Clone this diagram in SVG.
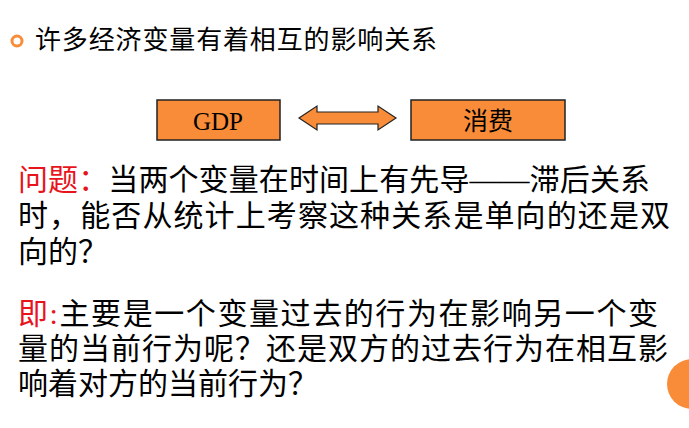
<svg xmlns="http://www.w3.org/2000/svg" width="689" height="428" viewBox="0 0 689 428">
<style>
.t{font-family:"Liberation Serif","Noto Sans CJK SC",serif;font-size:30px;fill:#000}
.r{fill:#e8141c}
.box{fill:#f98c38;stroke:#222;stroke-width:1.5}
.bl{font-family:"Liberation Serif","Noto Sans CJK SC",serif;font-size:25px;text-anchor:middle}
</style>
<rect width="689" height="428" fill="#fff"/>
<circle cx="17" cy="41" r="5" fill="none" stroke="#f98c38" stroke-width="3"/>
<text x="35" y="49" font-family="Liberation Sans,'Noto Sans CJK SC',sans-serif" font-size="26" textLength="402">许多经济变量有着相互的影响关系</text>
<g id="gdp"><rect class="box" x="157" y="100" width="123" height="40"/><text class="bl" x="218" y="130">GDP</text></g>
<g id="xf"><rect class="box" x="411" y="100" width="154" height="40"/><text class="bl" x="488" y="130">消费</text></g>
<g id="connectors"><polygon points="299,118 317,106 317,112 378,112 378,106 396,118 378,130 378,124 317,124 317,130" fill="#f98c38" stroke="#222" stroke-width="1.2"/></g>
<text class="t" x="18" y="190" textLength="632"><tspan class="r">问题：</tspan>当两个变量在时间上有先导——滞后关系</text>
<text class="t" x="18" y="226" textLength="652">时，能否从统计上考察这种关系是单向的还是双</text>
<text class="t" x="18" y="262">向的？</text>
<text class="t" x="18" y="324" textLength="640"><tspan class="r">即:</tspan>主要是一个变量过去的行为在影响另一个变</text>
<text class="t" x="18" y="359" textLength="650">量的当前行为呢？还是双方的过去行为在相互影</text>
<text class="t" x="18" y="394">响着对方的当前行为？</text>
<circle cx="692" cy="384" r="25" fill="#f98c38"/>
</svg>
